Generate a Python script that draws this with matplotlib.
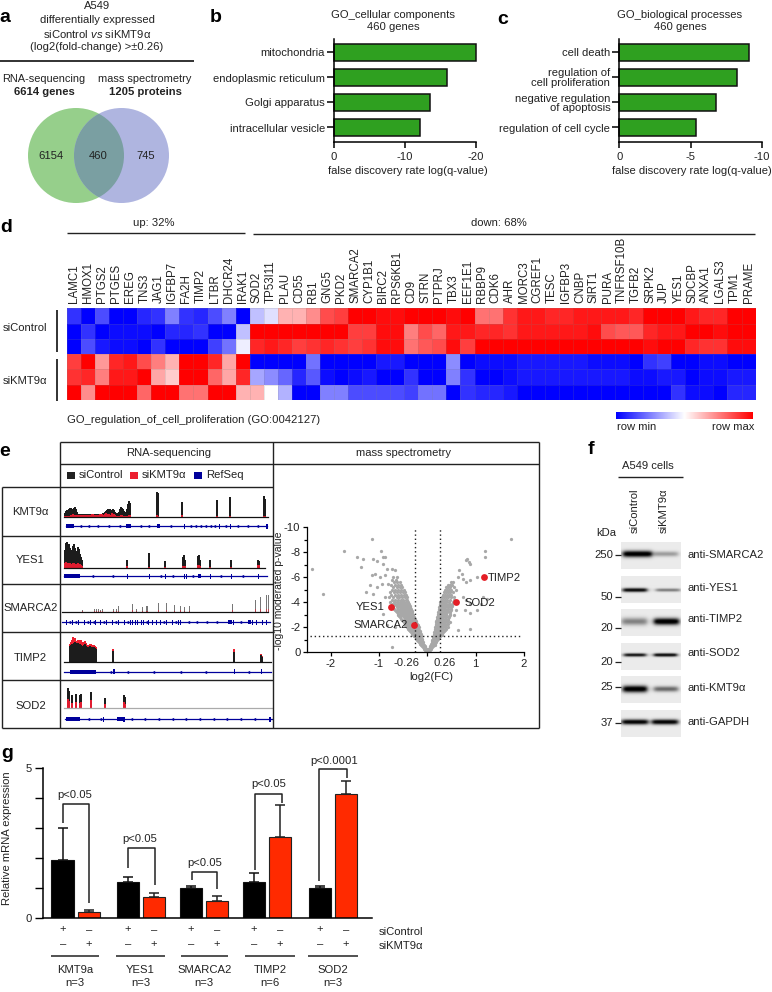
import numpy as np
import matplotlib
matplotlib.use('Agg')
import matplotlib.pyplot as plt
from matplotlib.colors import LinearSegmentedColormap
from matplotlib.patches import Ellipse, Rectangle

plt.rcParams['font.family'] = ['Liberation Sans', 'DejaVu Sans']
plt.rcParams['mathtext.fontset'] = 'custom'
plt.rcParams['mathtext.it'] = 'Liberation Sans:italic'
plt.rcParams['mathtext.rm'] = 'Liberation Sans'
W, H = 772, 992
FS = 8.1
TXT = '#222222'

# ---------- data ----------
venn_counts = ['6154', '460', '745']
cc_labels = ['mitochondria', 'endoplasmic reticulum', 'Golgi apparatus', 'intracellular vesicle']
cc_values = [-20, -16.0, -13.5, -12.1]
bp_labels = ['cell death', 'regulation of\ncell proliferation', 'negative regulation\nof apoptosis', 'regulation of cell cycle']
bp_values = [-9.1, -8.3, -6.8, -5.4]

genes = ['LAMC1','HMOX1','PTGS2','PTGES','EREG','TNS3','JAG1','IGFBP7','FA2H','TIMP2','LTBR','DHCR24','IRAK1',
         'SOD2','TP53I11','PLAU','CD55','RB1','GNG5','PKD2','SMARCA2','CYP1B1','BIRC2','RPS6KB1','CD9','STRN','PTPRJ',
         'TBX3','EEF1E1','RBBP9','CDK6','AHR','MORC3','CGREF1','TESC','IGFBP3','CNBP','SIRT1','PURA','TNFRSF10B',
         'TGFB2','SRPK2','JUP','YES1','SDCBP','ANXA1','LGALS3','TPM1','PRAME']
heat_1 = [-.8,-1,-.7,-1,-1,-.85,-.8,-.5,-.8,-.85,-.7,-.5,-1,
          -.25,-.12,.3,.3,.45,.7,.75,1,1,.95,.95, 1,1,1,.95,1, .55,.55,
          .8,.9,.9,.85,.85,.9,.9,.9,.9,.85,1,1,1,.9,.85,.85,1,1]
heat_2 = [-1,-.8,-1,-.95,-.95,-.95,-1,-.85,-.85,-.8,-1,-1,-.25,
          1,1,1,1,1,1,1,.75,.75,.95,.95, .5,.7,.6,.9,.9, .85,.85,
          .8,.9,.9,.9,.9,.9,.95,.7,.65,.65,.85,.9,.9,1,1,.95,1,1]
heat_3 = [-1,-.7,-.9,-.95,-.95,-1,-.8,-1,-1,-1,-.75,-.55,-.07,
          .85,.9,.85,.75,.8,.85,.8,.75,.8,.95,.95, .55,.65,.7,.95,.75, 1,1,
          1,1,1,1,1,1,1,1,1,1,.95,1,1,.85,.8,.8,.95,.95]
heat_4 = [.75,1,.4,.85,.9,.7,.5,.3,1,1,.85,.35,1,
          -1,-1,-1,-1,-.55,-1,-1,-1,-1,-.9,-.9, -1,-1,-1,-.45,-1, -.95,-.95,
          -.95,-.9,-.9,-.9,-.9,-.9,-.95,-.95,-.95,-1,-.8,-.75,-1,-1,-.95,-.95,-1,-1]
heat_5 = [.8,.85,.5,.9,.9,1,.35,.2,1,1,.6,.35,.85,
          -.35,-.45,-.6,-.85,-.65,-.95,-1,-.95,-.9,-1,-1, -.8,-1,-1,-.5,-.8, -1,-1,
          -.95,-.9,-.9,-.9,-.9,-.9,-.9,-.9,-.9,-.95,-.95,-.9,-.9,-1,-.95,-.95,-.9,-.9]
heat_6 = [1,.45,1,1,1,.6,1,1,.55,.55,1,1,.3,
          .3,0,-.3,-1,-1,-.5,-.5,-.7,-.7,-.7,-.7, -.75,-.55,-.55,-1,-.8, -.85,-.85,
          -.9,-1,-1,-1,-1,-1,-1,-1,-1,-1,-1,-1,-.8,-.95,-.95,-1,-.85,-.85]

track_names = ['KMT9α', 'YES1', 'SMARCA2', 'TIMP2', 'SOD2']
kmt9_x = list(range(65, 131)) + [157, 158, 182, 217, 230, 264, 265]
kmt9_ctrl = [4,6,7,7,8,9,9,6,8,9,10,8,5,3, 3,2,3,2,3,3,2,3,3,2,3,2,3,3,2,2,3,2,3,3,2,3,3,3,4,
             4,5,6,7,8,7,8,7,6,8,7,5,4,3,4, 5,8,10,9,8,6,4,5,8,13,16,14, 25,24,15,17,20,21,18]
kmt9_kd = [1,1,1,1,1,1,2,2,3,2,1,2,2,1, 2,1,2,2,1,2,2,1,2,2,1,2,2,3,3,2,2,1,2,2,2,3,3,3,2,
           2,3,4,3,2,3,2,2,4,3,3,2,1,1,1, 1,1,2,2,1,1,1,1,1,1,2,2, 2,1,2,1,1,1,1]
yes1_x = list(range(65, 83)) + [127, 149, 165, 183, 184, 185, 198, 199, 200, 210, 231, 258, 259]
yes1_ctrl = [18,25,26,22,24,20,15,18,22,24,20,15,17,21,19,14,11,8, 8,15,7,11,13,8,12,13,8,8,8,8,7]
yes1_kd = [5,6,5,5,4,5,4,4,5,5,4,4,4,5,4,4,3,2, 2,1,1,2,2,2,3,3,2,1,1,3,3]
smarca_x = [82,94,96,98,100,102,113,116,118,132,136,142,146,147,158,166,174,180,184,189,232,255,260,266,268]
smarca_ctrl = [2,3,3,3,2,3,3,3,6,8,3,5,6,6,9,9,7,6,5,6,8,12,15,17,17]
smarca_kd = [1,1,1,1,1,1,1,1,1,2,1,1,1,1,2,2,1,2,1,1,2,3,3,3,3]
timp2_x = list(range(70, 97)) + [113, 234, 261, 262]
timp2_ctrl = [16,17,18,17,19,20,19,18,19,17,18,17,16,15,17,18,16,15,14,15,16,15,14,15,15,14,13, 11,10,7,5]
timp2_kd = [18,20,22,25,24,24,21,20,22,22,21,22,20,19,20,21,19,17,17,17,18,18,17,17,17,16,15, 13,13,8,6]
sod2_x = [68,69,72,76,80,81,91,105,124,125]
sod2_ctrl = [20,17,13,14,13,14,16,10,13,11]
sod2_kd = [9,7,5,6,5,6,8,4,6,4]

kmt9_exons = [(66,8),(126,5),(157,3),(184,1),(219,1),(230,1),(266,2)]
kmt9_marks = [80,88,97,108,119,140,148,170,190,195,200,205,210,214,225,237,247,257]
yes1_exons = [(64,16),(127,1),(149,1),(165,1),(184,1),(186,1),(198,3),(210,1),(231,1),(258,1)]
yes1_marks = [92,112,160,172,192,220,242]
smarca_exons = [(66,1),(72,1),(78,1),(84,1),(90,1),(95,1),(100,1),(106,1),(112,1),(118,1),(124,1),(130,1),(132,1),
                (135,1),(137,1),(141,1),(143,1),(148,1),(152,1),(156,1),(160,1),(166,1),(172,1),(178,1),(180,1),
                (228,4),(233,1),(248,3),(252,1),(256,1),(262,1),(266,1)]
smarca_marks = [69,75,87,93,103,115,127,146,163,175,188,196,206,216,240]
timp2_exons = [(70,26),(113,2),(234,1),(261,1)]
timp2_marks = [110,127,153,180,205,248]
sod2_exons = [(66,14),(103,1),(117,6),(123,2),(269,2)]
sod2_marks = [88,100,131,144,158,172,185,199,213,226,240,254]

volcano_rows = [
 (0.2,[-.05,-.03,-.02,.02,.03,.05]), (0.4,[-.09,-.07,-.05,.05,.07,.1]),
 (0.6,[-.14,-.11,-.09,-.07,.07,.09,.12,.15]), (0.8,[-.17,-.14,-.11,-.09,.09,.11,.14,.17]),
 (1.0,[-.21,-.18,-.15,-.12,-.1,.1,.12,.15,.18,.21]), (1.2,[-.24,-.21,-.18,-.15,-.12,.12,.14,.17,.2,.24]),
 (1.4,[-.30,-.26,-.22,-.19,-.16,-.13,.14,.17,.2,.23,.27,.31]), (1.6,[-.33,-.28,-.25,-.21,-.18,-.15,.14,.17,.2,.24,.28,.33]),
 (1.8,[-.37,-.31,-.27,-.24,-.2,-.17,.15,.19,.22,.26,.3,.36]), (2.0,[-.43,-.36,-.32,-.28,-.25,-.22,-.18,.16,.2,.23,.27,.31,.36,.42]),
 (2.2,[-.46,-.38,-.34,-.3,-.26,-.23,-.2,.17,.21,.25,.29,.33,.38]), (2.4,[-.48,-.42,-.38,-.34,-.3,-.27,-.23,.18,.22,.26,.3,.34,.4,.47]),
 (2.6,[-.52,-.46,-.41,-.37,-.33,-.29,-.25,.2,.24,.27,.31,.36,.42]), (2.8,[-.56,-.49,-.44,-.4,-.36,-.32,-.28,.21,.25,.29,.33,.38,.45]),
 (3.0,[-.6,-.54,-.48,-.43,-.39,-.35,-.31,-.29,.22,.26,.3,.34,.39,.46,.55]), (3.2,[-.62,-.56,-.51,-.46,-.42,-.38,-.34,-.31,.23,.27,.31,.35,.4,.47]),
 (3.4,[-.66,-.6,-.54,-.49,-.45,-.41,-.37,-.33,.24,.28,.32,.36,.41,.48,.6]), (3.6,[-.7,-.62,-.56,-.52,-.47,-.43,-.39,-.35,.25,.29,.33,.37,.43,.5]),
 (3.8,[-.72,-.65,-.6,-.55,-.5,-.45,-.41,-.37,.27,.3,.34,.38,.44,.52]), (4.0,[-.77,-.68,-.62,-.57,-.52,-.48,-.43,-.39,.27,.31,.35,.39,.45,.54,.6]),
 (4.2,[-.74,-.66,-.6,-.55,-.5,-.45,-.41,.29,.33,.37,.41,.46,.55]), (4.4,[-.79,-.7,-.63,-.58,-.52,-.47,-.43,.3,.34,.38,.42,.48,.56]),
 (4.6,[-.75,-.67,-.6,-.54,-.49,-.45,.32,.36,.4,.44,.5]), (4.8,[-.78,-.69,-.62,-.56,-.5,-.47,.34,.38,.42,.47,.53]),
 (5.0,[-.74,-.66,-.6,-.54,-.49,.36,.4,.44,.5,.6]), (5.2,[-.7,-.63,-.56,-.52,.38,.42,.47,.55]),
 (5.4,[-.76,-.66,-.6,-.54,.42,.46,.52]), (5.6,[-.68,-.62,-.57,.48,.54]), (5.8,[-.72,-.64]), (6.0,[-.7,-.62]),
 (0.1,[-.02,0,.02]), (0.3,[-.07,-.05,-.03,-.01,.01,.03,.05,.07]), (0.5,[-.11,-.08,-.06,-.04,.05,.07,.09,.12]),
 (0.7,[-.15,-.12,-.1,-.08,.08,.1,.13,.16]), (0.9,[-.19,-.16,-.13,-.1,.1,.13,.16,.19]),
 (1.1,[-.23,-.2,-.17,-.14,-.11,.11,.13,.16,.19,.23]), (1.3,[-.27,-.23,-.2,-.17,-.14,-.12,.13,.15,.18,.22,.26]),
 (1.5,[-.31,-.27,-.24,-.2,-.17,-.14,.14,.18,.21,.25,.3]), (1.7,[-.35,-.3,-.26,-.22,-.19,-.16,.15,.18,.22,.25,.29,.34]),
 (1.9,[-.4,-.34,-.3,-.26,-.22,-.19,.16,.19,.22,.25,.29,.33,.39]), (2.1,[-.44,-.38,-.33,-.29,-.25,-.21,.17,.19,.22,.26,.3,.35]),
 (2.3,[-.47,-.41,-.36,-.32,-.28,-.24,-.21,.18,.21,.24,.28,.32,.37,.43]), (2.5,[-.5,-.44,-.39,-.35,-.31,-.27,-.24,.19,.23,.26,.3,.35,.41]),
 (2.7,[-.54,-.47,-.42,-.38,-.34,-.3,-.26,.2,.23,.27,.31,.36,.43]), (2.9,[-.58,-.51,-.46,-.41,-.37,-.33,-.29,.22,.25,.29,.33,.37,.44]),
 (3.1,[-.61,-.55,-.5,-.45,-.4,-.36,-.32,.23,.27,.31,.35,.39,.46]), (3.3,[-.64,-.58,-.52,-.47,-.43,-.39,-.35,-.32,.24,.28,.32,.36,.4,.46]),
 (3.5,[-.68,-.61,-.55,-.5,-.46,-.42,-.38,-.34,.25,.29,.33,.37,.42,.49]), (3.7,[-.71,-.63,-.58,-.53,-.48,-.44,-.4,-.36,.26,.3,.34,.38,.43,.51]),
 (3.9,[-.74,-.66,-.6,-.56,-.51,-.46,-.42,-.38,.27,.31,.35,.39,.44,.52]),
]
outlier_x = [-1.14,-1.72,-.96,-.91,-1.46,-1.34,-1.12,-1.05,-.87,-.91,-1.38,-2.39,-.84,-.74,-.67,-1.15,-1.08,-.88,-.98,
             -1.19,-1.05,-1.26,-2.15,-1.12,-.88,-.94,-.81,-.74,-.84,-.67,-.91,
             1.73,1.19,1.19,.81,.86,.88,.83,.66,.71,.64,.74,.81,.88,1.02,1.23,1.12,1.02,.88,.88,.64,.81,1.16,.88,.74,.78]
outlier_y = [9.1,8.1,8.1,7.65,7.6,7.45,7.5,7.3,7.65,7.1,6.85,6.65,6.7,6.7,6.6,6.2,6.25,6.2,6.05,
             5.4,5.25,4.8,4.7,4.7,4.45,5.5,5.5,.45,2.2,2.05,3.1,
             9.05,8.1,7.65,7.4,7.25,7.05,7.45,6.6,6.3,6.05,5.9,5.65,5.8,6.05,4.3,3.9,3.4,3.15,1.9,1.8,4.2,4.45,3.9,4.45,3.4]
hit_names = ['YES1', 'SMARCA2', 'SOD2', 'TIMP2']
hit_x = [-.75, -.28, .6, 1.18]
hit_y = [3.6, 2.2, 4.0, 6.0]

blot_names = ['anti-SMARCA2','anti-YES1','anti-TIMP2','anti-SOD2','anti-KMT9α','anti-GAPDH']
blot_ctrl = [1.0, .95, .4, .9, 1.0, .95]
blot_kd = [.3, .45, 1.0, 1.0, .5, .95]
blot_kda = ['250','50','20','20','25','37']

qpcr_genes = ['KMT9a','YES1','SMARCA2','TIMP2','SOD2']
qpcr_n = ['n=3','n=3','n=3','n=6','n=3']
qpcr_ctrl = [1.93, 1.21, 1.0, 1.19, 1.0]
qpcr_ctrl_err = [1.06, .17, .07, .31, .06]
qpcr_kd = [.19, .71, .58, 2.71, 4.13]
qpcr_kd_err = [.08, .12, .17, 1.06, .44]
qpcr_p = ['p<0.05','p<0.05','p<0.05','p<0.05','p<0.0001']

# ---------- helpers ----------
fig = plt.figure(figsize=(W/100, H/100), dpi=100, facecolor='white')
def ax_px(x0, y0, x1, y1, **kw):
    return fig.add_axes([x0/W, 1-y1/H, (x1-x0)/W, (y1-y0)/H], **kw)
ov = ax_px(0, 0, W, H)
ov.set_xlim(0, W); ov.set_ylim(H, 0); ov.axis('off'); ov.set_zorder(10); ov.patch.set_alpha(0)
def T(x, y, s, ha='center', va='center', fs=FS, **kw):
    kw.setdefault('color', TXT)
    return ov.text(x, y, s, ha=ha, va=va, fontsize=fs, **kw)
def L(xs, ys, lw=1.0, color='#222222', **kw):
    ov.plot(xs, ys, lw=lw, color=color, solid_capstyle='butt', **kw)

for s, x, y in [('a',5,18),('b',216,18),('c',503,19),('d',6,227),('e',5,451),('f',591,450),('g',7,753)]:
    T(x, y, s, fs=14, fontweight='bold', color='black')

# ---------- a ----------
T(97, 6, 'A549'); T(97, 20, 'differentially expressed')
T(97, 34, r'siControl $\it{vs}$ siKMT9α'); T(97, 47, '(log2(fold-change) >±0.26)')
L([0, 194], [61, 61], lw=1.3)
T(44, 79, 'RNA-sequencing', fs=7.9); T(145, 79, 'mass spectrometry', fs=7.9)
T(44, 92, '6614 genes', fontweight='bold'); T(145, 92, '1205 proteins', fontweight='bold')
g_e = Ellipse((76, 155.5), 96, 95, fc='#96cf8b', ec='none', zorder=1); ov.add_patch(g_e)
ov.add_patch(Ellipse((121.5, 155.5), 95, 95, fc='#afb5e0', ec='none', zorder=2))
over = Ellipse((121.5, 155.5), 95, 95, fc='#7a9fa2', ec='none', zorder=3); ov.add_patch(over)
over.set_clip_path(g_e)
for x, s in zip([51, 98.6, 146], venn_counts):
    T(x, 156, s, zorder=5)

# ---------- b, c ----------
def go_panel(x0, x1, vals, labels, xmax, ticks, title, tx, lx):
    ax = ax_px(x0, 39, x1, 142)
    ypos = [52.5, 77.5, 102.5, 127.5]
    ax.barh(ypos, vals, height=16.5, color='#2fa020', edgecolor='#111111', linewidth=1.1, clip_on=False)
    ax.set_xlim(0, xmax); ax.set_ylim(142, 39)
    ax.set_xticks(ticks); ax.set_xticklabels([str(t) for t in ticks], fontsize=FS, color=TXT)
    ax.set_yticks(ypos); ax.set_yticklabels(labels, fontsize=FS, color=TXT, linespacing=0.95)
    ax.tick_params(axis='x', length=4.5, width=1.1, pad=2.5)
    ax.tick_params(axis='y', length=5, width=1.1, pad=1.5)
    for s in ['top', 'right']:
        ax.spines[s].set_visible(False)
    for s in ['left', 'bottom']:
        ax.spines[s].set_linewidth(1.1)
    T(tx, 15, title); T(tx, 27, '460 genes')
    T(lx, 170.7, 'false discovery rate log(q-value)')
go_panel(334, 475.7, cc_values, cc_labels, -20, [0, -10, -20], 'GO_cellular components', 393, 407.7)
go_panel(619.3, 761.7, bp_values, bp_labels, -10, [0, -5, -10], 'GO_biological processes', 680, 691.7)

# ---------- d ----------
T(154, 223, 'up: 32%'); T(499, 223, 'down: 68%')
L([67, 245], [233, 233]); L([253, 755], [234, 234])
bwr = LinearSegmentedColormap.from_list('bwr2', ['#0000ff', '#ffffff', '#ff0000'])
hm = ax_px(67, 308.3, 755.6, 400)
matrix = np.array([heat_1, heat_2, heat_3, heat_4, heat_5, heat_6])
hm.pcolormesh(matrix, cmap=bwr, vmin=-1, vmax=1, edgecolors=(.5, .5, .5, .18), linewidth=0.4)
hm.set_ylim(6, 0); hm.set_yticks([])
hm.set_xticks(np.arange(len(genes)) + .5); hm.set_xticklabels(genes, rotation=90, fontsize=8.3, color=TXT)
hm.tick_params(axis='x', top=False, bottom=False, labeltop=True, labelbottom=False, length=0, pad=4)
for s in hm.spines.values():
    s.set_visible(False)
T(3, 328, 'siControl', ha='left'); T(3, 381, 'siKMT9α', ha='left')
L([57, 57], [310, 352], lw=1.3); L([57, 57], [359, 401], lw=1.3)
T(67, 420, 'GO_regulation_of_cell_proliferation (GO:0042127)', ha='left')
cb = ax_px(616, 411.5, 752.5, 419)
cb.imshow(np.linspace(-1, 1, 256)[None, :], cmap=bwr, aspect='auto', vmin=-1, vmax=1)
cb.axis('off')
T(617, 427, 'row min', ha='left'); T(754, 427, 'row max', ha='right')

# ---------- e frame ----------
LW = 1.0
L([60, 539], [442, 442], lw=LW); L([60, 539], [464, 464], lw=LW)
L([1.5, 273], [487, 487], lw=LW)
for y in [536, 584, 632, 680]:
    L([1.5, 273], [y, y], lw=LW)
L([1.5, 539], [728, 728], lw=LW)
L([1.5, 1.5], [487, 728], lw=LW); L([60, 60], [442, 728], lw=LW)
L([273, 273], [442, 728], lw=LW); L([539, 539], [442, 728], lw=LW)
T(169, 453, 'RNA-sequencing'); T(404, 453, 'mass spectrometry')
for x, c, lab in [(67, '#222222', 'siControl'), (130, '#ec2030', 'siKMT9α'), (194, '#00009b', 'RefSeq')]:
    ov.add_patch(Rectangle((x, 472), 8, 7, fc=c, ec='none'))
    T(x + 12, 475, lab, ha='left')

# ---------- e tracks ----------
GENE_BLUE = '#00009b'
def track(base, x0, x1, px, ctrl, kd, width, gene_y, gx0, gx1, exons, marks, baseline_c='#111111', alpha=1.0):
    ax = ax_px(60, base-32, 273, base+14)
    ax.set_xlim(60, 273); ax.set_ylim(-14, 32); ax.axis('off')
    px, ctrl, kd = np.array(px), np.array(ctrl), np.array(kd)
    m = kd > ctrl
    ax.bar(px[m], kd[m], width=width, color='#ec2030', lw=0)
    ax.bar(px, ctrl, width=width, color='#1c1c1c', lw=0, alpha=alpha)
    ax.bar(px[~m], kd[~m], width=width, color='#e01c30', lw=0, alpha=alpha)
    ax.plot([x0, x1], [0, 0], color=baseline_c, lw=0.9)
    gy = -gene_y
    ax.plot([gx0, gx1], [gy, gy], color=GENE_BLUE, lw=0.9)
    for ex, w in exons:
        ax.add_patch(Rectangle((ex, gy-(2 if w > 2 else 2.5)), w, 4 if w > 2 else 5, fc=GENE_BLUE, ec='none'))
    ax.plot(marks, [gy]*len(marks), ls='none', marker='<', ms=2.4, color=GENE_BLUE, mew=0)
track(516.7, 64, 268, kmt9_x, kmt9_ctrl, kmt9_kd, 2, 9.6, 66, 267, kmt9_exons, kmt9_marks)
track(567.7, 64, 265, yes1_x, yes1_ctrl, yes1_kd, 2, 8.3, 64, 267, yes1_exons, yes1_marks)
track(612.3, 62, 268, smarca_x, smarca_ctrl, smarca_kd, 1, 9.7, 62, 270, smarca_exons, smarca_marks, alpha=.6)
track(662.3, 64, 271, timp2_x, timp2_ctrl, timp2_kd, 2, 9.4, 64, 271, timp2_exons, timp2_marks)
track(708, 64, 272, sod2_x, sod2_ctrl, sod2_kd, 1.5, 11, 65, 272, sod2_exons, sod2_marks, baseline_c='#aaaaaa')
for y, n in zip([512, 560, 608, 658, 706], track_names):
    T(30.5, y, n)

# ---------- e volcano ----------
vx0, vx2 = 427.3, 524
unit = vx2 - vx0
vo = ax_px(306.7, 527.3, 524, 652.3)
vo.set_xlim((306.7-vx0)/(unit/2), 2); vo.set_ylim(0, -10)
vol_x = np.concatenate([r[1] for r in volcano_rows] + [outlier_x])
vol_y = np.concatenate([[-r[0]]*len(r[1]) for r in volcano_rows] + [-np.array(outlier_y)])
vo.scatter(vol_x, vol_y, s=5.5, color='#a8a8a8', lw=0, clip_on=False, zorder=2)
vo.scatter(hit_x, -np.array(hit_y), s=24, color='#e41e26', lw=0, zorder=4, clip_on=False)
for v in [-.26, .26]:
    vo.plot([v, v], [0, -10], color='#222222', ls=(0, (1, 2)), lw=1.0, zorder=3)
vo.plot([-2.42, 1.95], [-1.3, -1.3], color='#222222', ls=(0, (1, 2)), lw=1.0, zorder=3)
vo.set_xticks([-2, -1, 0, 1, 2]); vo.set_xticklabels(['-2', '-1', '', '1', '2'], fontsize=FS, color=TXT)
vo.set_yticks([0, -2, -4, -6, -8, -10]); vo.set_yticklabels(['0', '-2', '-4', '-6', '-8', '-10'], fontsize=FS, color=TXT)
vo.set_yticks([-1, -3, -5, -7, -9], minor=True)
vo.tick_params(axis='both', length=3, width=0.9, pad=1.5)
vo.tick_params(axis='y', which='minor', length=2, width=0.9)
for s in ['top', 'right']:
    vo.spines[s].set_visible(False)
for s in ['left', 'bottom']:
    vo.spines[s].set_linewidth(0.9)
T(406.7, 663, '-0.26'); T(445, 663, '0.26')
T(431, 677, 'log2(FC)')
T(279.5, 591, '-log10 moderated p-value', rotation=90, fs=7.5)
for n, x, y, ha in zip(hit_names, [385, 408, 464, 488], [606.5, 625.5, 602.5, 578], ['right', 'right', 'left', 'left']):
    T(x, y, n, ha=ha)

# ---------- f ----------
T(648, 466, 'A549 cells'); L([618, 682.7], [477, 477])
T(634.7, 533, 'siControl', rotation=90, va='bottom'); T(664, 533, 'siKMT9α', rotation=90, va='bottom')
T(606.7, 533, 'kDa')
blot_tops = [542, 575.7, 609, 642.7, 676, 709.5]
band_y = [12.5, 14.5, 13, 12.5, 13.5, 12.5]
band_t = [3.0, 1.8, 3.2, 1.5, 3.2, 2.4]
ctrl_span = [(2, 31), (2, 26), (1, 26), (3, 25), (2, 26), (1, 27)]
kd_span = [(33, 57), (35, 59), (33, 58), (33, 56), (33, 57), (31, 57)]
label_y = [554.7, 588, 619, 653, 688, 722]
kda_y = [555, 597, 628, 662, 687, 723]
xx = np.arange(60) + .5
yy = np.arange(27) + .5
def smooth_box(a, b):
    return 1/(1+np.exp(-(xx-a)/1.4)) * 1/(1+np.exp((xx-b)/1.4))
for i in range(6):
    ax = ax_px(621, blot_tops[i], 681, blot_tops[i]+27.3)
    img = np.zeros((27, 60))
    for val, (a, b) in ((blot_ctrl[i], ctrl_span[i]), (blot_kd[i], kd_span[i])):
        t = band_t[i] if val > .5 else band_t[i]*1.1 if i == 2 else band_t[i]*.8
        img += val*np.outer(np.exp(-((yy-band_y[i])/t)**2), smooth_box(a, b))
    ax.imshow(.92-.92*np.clip(img*1.15, 0, 1), cmap='gray', vmin=0, vmax=1, aspect='auto', interpolation='bilinear')
    ax.axis('off')
    T(688, label_y[i], blot_names[i], ha='left')
    T(613, kda_y[i], blot_kda[i], ha='right')
    L([615, 621], [kda_y[i], kda_y[i]], lw=0.9)

# ---------- g ----------
bar_ax = ax_px(43.3, 768, 372, 918)
bar_ax.set_xlim(43.3, 372); bar_ax.set_ylim(0, 5)
centers = np.array([75.7, 141, 204, 267, 333])
bar_ax.bar(centers-13, qpcr_ctrl, width=22.5, color='black', edgecolor='#111111', lw=0.8)
bar_ax.bar(centers+13, qpcr_kd, width=22, color='#ff2a00', edgecolor='#222222', lw=0.8)
bar_ax.errorbar(centers-13, qpcr_ctrl, yerr=[np.zeros(5), qpcr_ctrl_err], fmt='none', ecolor='#111111', elinewidth=1.1, capsize=3.6, capthick=1.1)
bar_ax.errorbar(centers+13, qpcr_kd, yerr=[np.zeros(5), qpcr_kd_err], fmt='none', ecolor='#222222', elinewidth=1.1, capsize=3.6, capthick=1.1)
bar_ax.set_xticks([]); bar_ax.set_yticks(range(6)); bar_ax.set_yticklabels(['0', '', '', '', '', '5'], fontsize=FS, color=TXT)
bar_ax.tick_params(axis='y', length=6, width=1.0, pad=2.5)
for s in ['top', 'right']:
    bar_ax.spines[s].set_visible(False)
for s in ['left', 'bottom']:
    bar_ax.spines[s].set_linewidth(1.1)
T(7.3, 838, 'Relative mRNA expression', rotation=90)
brackets = [(63.3, 88.7, 823, 804, 903, 74.3, 795), (128, 155, 868, 848, 885, 139.3, 839),
            (191.7, 217.3, 880, 872, 889, 204.3, 863), (255, 281.7, 870, 794, 803, 268.3, 784), (319.3, 346.7, 881, 769, 778, 334.3, 761)]
for (xl, xr, yl, yt, yr, tx, ty), p in zip(brackets, qpcr_p):
    L([xl, xl, xr, xr], [yl, yt, yt, yr], lw=1.1)
    T(tx, ty, p)
for c, g, n, (a, b) in zip(centers, qpcr_genes, qpcr_n, [(50.7,99.3),(116,164.7),(180.7,227.7),(245.3,294.7),(307.7,358.3)]):
    T(c-13, 929, '+'); T(c+13, 930, '–')
    T(c-13, 944, '–'); T(c+13, 944, '+')
    L([a, b], [956, 956], lw=1.1)
    T((a+b)/2, 970, g); T((a+b)/2, 983, n)
T(379, 932, 'siControl', ha='left'); T(379, 946, 'siKMT9α', ha='left')

fig.savefig('out.png', dpi=100, facecolor='white')
